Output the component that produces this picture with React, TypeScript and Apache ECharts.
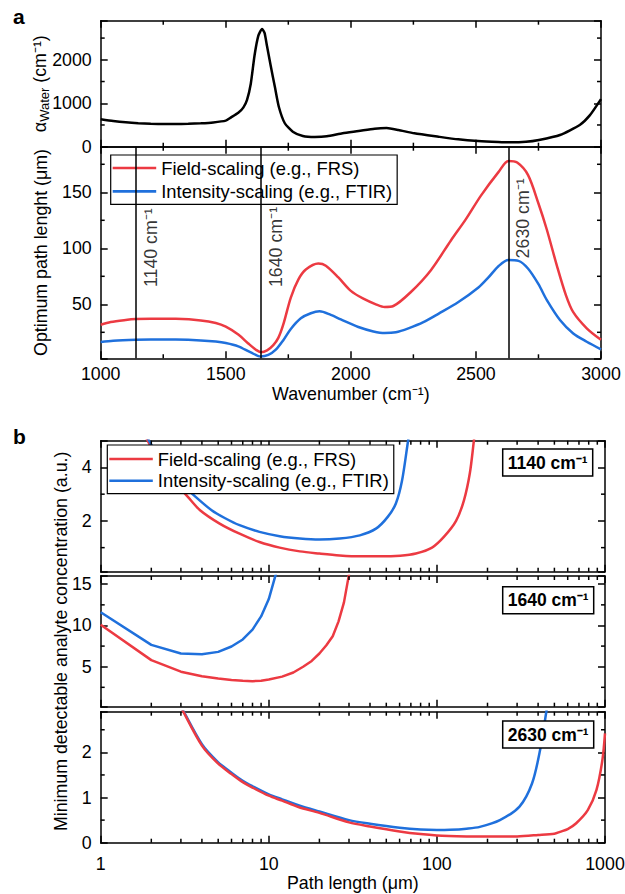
import React, { useEffect, useRef } from 'react';
import * as echarts from 'echarts';

const FONT = 'Liberation Sans, Arial, Helvetica, sans-serif';
const BLACK = '#000';
const RED = '#EC3A42';
const BLUE = '#1F70DC';
const FIELD = 'Field-scaling (e.g., FRS)';
const INTENSITY = 'Intensity-scaling (e.g., FTIR)';

// ---- panel a, top: water absorption ----
const waterWavenumber = [1000, 1050, 1100, 1150, 1200, 1250, 1300, 1350, 1400, 1450, 1500, 1520, 1550, 1570, 1585, 1600, 1615, 1630, 1645, 1655, 1665, 1680, 1696, 1712, 1736, 1768, 1808, 1856, 1904, 1967, 2031, 2095, 2143, 2190, 2254, 2350, 2429, 2509, 2589, 2637, 2700, 2752, 2836, 2915, 2955, 3000];
const waterAbsorption = [630, 590, 560, 540, 528, 522, 522, 527, 538, 558, 600, 670, 780, 900, 1080, 1450, 2100, 2550, 2710, 2620, 2310, 1850, 1385, 920, 540, 346, 246, 223, 238, 308, 360, 415, 430, 385, 308, 230, 170, 131, 108, 100, 112, 155, 270, 500, 720, 1095];

// ---- panel a, bottom: optimum path length ----
const fieldWavenumber = [1000, 1040, 1100, 1140, 1200, 1300, 1400, 1460, 1500, 1550, 1590, 1620, 1640, 1665, 1690, 1710, 1730, 1760, 1790, 1820, 1870, 1900, 1950, 2000, 2050, 2100, 2135, 2170, 2240, 2320, 2400, 2460, 2520, 2590, 2630, 2665, 2708, 2750, 2783, 2823, 2860, 2889, 2943, 3000];
const fieldPathLength = [31.8, 34.2, 36, 36.8, 37.2, 37, 35.6, 33.3, 30, 23, 15, 9.5, 7.3, 8.8, 13.5, 20, 32, 56, 72, 81, 86.4, 84.5, 74, 62, 55, 50, 47.6, 48.5, 61, 80.5, 107, 126, 147, 168, 178, 176.5, 165.5, 140, 117, 85, 58, 43, 28.6, 18.3];
const intensityWavenumber = [1000, 1050, 1140, 1200, 1300, 1400, 1460, 1500, 1550, 1600, 1640, 1670, 1700, 1730, 1760, 1800, 1840, 1875, 1920, 1960, 2030, 2090, 2135, 2180, 2230, 2290, 2350, 2430, 2510, 2550, 2590, 2630, 2670, 2708, 2750, 2783, 2836, 2889, 2943, 3000];
const intensityPathLength = [16.3, 17.5, 18.4, 18.6, 18.5, 17.8, 16.8, 15.5, 12.5, 7, 3.4, 4.8, 9.5, 18, 28, 37.5, 42, 43.7, 40.5, 36.5, 29.7, 25.8, 24.3, 25, 28.5, 34, 41.5, 52, 65, 74, 84, 89.5, 88.8, 82, 68, 54, 36, 24, 16.6, 9.8];
const markerWavenumbers = [1140, 1640, 2630];
const markerLabels = ['1140 cm⁻¹', '1640 cm⁻¹', '2630 cm⁻¹'];
const markerLabelY = [65.4, 65.4, 91];

// ---- panel b: minimum detectable concentration vs path length ----
const b1FieldLength = [1.5, 2, 2.5, 3, 3.3, 3.9, 5.1, 6.7, 8.8, 11.6, 15.3, 20, 26.4, 34.8, 45.9, 60.5, 75, 93.5, 110, 130, 145, 157, 166, 172];
const b1FieldConc = [6.3, 4.75, 3.8, 3.2, 2.9, 2.4, 1.9, 1.52, 1.21, 1.0, 0.86, 0.78, 0.71, 0.675, 0.675, 0.7, 0.78, 1.0, 1.4, 2.0, 2.78, 3.78, 5.0, 5.8];
const b1IntensityLength = [1.5, 2, 2.5, 3, 3.67, 4.57, 5.5, 6.7, 8.8, 11.6, 15.3, 20, 26.4, 34.8, 43.4, 51, 57, 62, 67.4, 70];
const b1IntensityConc = [6.4, 4.85, 3.95, 3.4, 2.9, 2.4, 2.1, 1.84, 1.59, 1.43, 1.34, 1.3, 1.34, 1.46, 1.71, 2.15, 2.65, 3.5, 5.0, 5.6];

const b2FieldLength = [1, 2, 3, 4, 5, 6, 7, 8, 9, 10, 12, 14, 16, 18, 20, 22, 24, 26, 28, 30, 31];
const b2FieldConc = [10.1, 5.8, 4.4, 3.85, 3.57, 3.4, 3.3, 3.25, 3.3, 3.45, 3.8, 4.3, 5.0, 5.7, 6.6, 7.6, 8.7, 10.5, 12.8, 16.2, 18];
const b2IntensityLength = [1, 2, 3, 4, 5, 6, 7, 8, 9, 10, 11, 12];
const b2IntensityConc = [11.6, 7.65, 6.6, 6.5, 6.8, 7.45, 8.3, 9.5, 11.1, 13.2, 16.2, 19];

const b3FieldLength = [2.8, 3, 4, 5, 6, 7, 8, 10, 12, 15, 20, 30, 40, 60, 80, 100, 150, 200, 300, 400, 500, 540, 600, 674, 790, 890, 965, 1000];
const b3FieldConc = [3.2, 3.0, 2.15, 1.75, 1.52, 1.34, 1.22, 1.04, 0.93, 0.79, 0.66, 0.45, 0.36, 0.25, 0.19, 0.16, 0.14, 0.135, 0.14, 0.17, 0.2, 0.24, 0.3, 0.43, 0.72, 1.17, 1.83, 2.42];
const b3IntensityLength = [2.8, 3, 4, 5, 6, 7, 8, 10, 12, 15, 20, 30, 40, 60, 80, 100, 120, 150, 180, 237, 310, 368, 411, 446, 470];
const b3IntensityConc = [3.22, 3.02, 2.18, 1.78, 1.55, 1.37, 1.25, 1.07, 0.96, 0.83, 0.69, 0.5, 0.42, 0.33, 0.29, 0.28, 0.285, 0.31, 0.35, 0.5, 0.8, 1.31, 2.05, 2.86, 3.4];
const bPanelLabels = ['1140 cm⁻¹', '1640 cm⁻¹', '2630 cm⁻¹'];

// ---- ticks ----
const wavenumberMinorTicks = [1250, 1750, 2250, 2750];
const waterMinorTicks = [500, 1500, 2500];
const pathMinorTicks = [25, 75, 125, 175];
const logMinorTicks = [2, 3, 4, 5, 6, 7, 8, 9, 20, 30, 40, 50, 60, 70, 80, 90, 200, 300, 400, 500, 600, 700, 800, 900];
const b1MinorTicks = [1, 3];
const b2MinorTicks = [2.5, 7.5, 12.5];
const b3MinorTicks = [0.5, 1.5, 2.5];

const pair = (xs: number[], ys: number[]) => xs.map((x, i) => [x, ys[i]]);

const grids = [
  { left: 100.7, top: 20.7, width: 500.3, height: 126 },
  { left: 100.7, top: 146.7, width: 500.3, height: 211.6 },
  { left: 100.7, top: 440.7, width: 504.3, height: 131 },
  { left: 100.7, top: 576, width: 504.3, height: 130.7 },
  { left: 100.7, top: 711.7, width: 504.3, height: 131 },
];

const axisLine = { show: true, onZero: false, lineStyle: { color: BLACK, width: 1.5 } };
const axisTick = { show: true, inside: true, length: 7, lineStyle: { color: BLACK, width: 1.5 } };
const labelBase = { color: BLACK, fontSize: 17.8, fontFamily: FONT };
const nameBase = { color: BLACK, fontSize: 17.8, fontFamily: FONT };
const plain = (v: number) => String(Math.round(v * 1000) / 1000);

function xPair(gridIndex: number, base: any, label: any, extra: any = {}) {
  return [
    { ...base, gridIndex, position: 'bottom', axisLine, axisTick, splitLine: { show: false }, axisLabel: label ? { ...labelBase, formatter: plain, ...label } : { show: false }, ...extra },
    { ...base, gridIndex, position: 'top', axisLine, axisTick, splitLine: { show: false }, axisLabel: { show: false } },
  ];
}

function yPair(gridIndex: number, min: number, max: number, interval: number, extra: any = {}) {
  const base = { type: 'value', gridIndex, min, max, minInterval: interval, maxInterval: interval, axisLine, axisTick, splitLine: { show: false } };
  const fmt = (v: number) => {
    const r = v / interval;
    return Math.abs(r - Math.round(r)) < 1e-6 ? plain(v) : '';
  };
  return [
    { ...base, position: 'left', axisLabel: { ...labelBase, margin: 9, formatter: fmt }, ...extra },
    { ...base, position: 'right', axisLabel: { show: false } },
  ];
}

const wnBase = { type: 'value', min: 1000, max: 3000, minInterval: 500, maxInterval: 500 };
const logBase = { type: 'log', logBase: 10, min: 1, max: 1000 };

const xAxes = [
  ...xPair(0, wnBase, null),
  ...xPair(1, wnBase, { margin: 7 }, { name: 'Wavenumber (cm⁻¹)', nameLocation: 'middle', nameGap: 27, nameMoveOverlap: false, nameTextStyle: nameBase }),
  ...xPair(2, logBase, null),
  ...xPair(3, logBase, null),
  ...xPair(4, logBase, { margin: 12 }, { name: 'Path length (μm)', nameLocation: 'middle', nameGap: 31, nameMoveOverlap: false, nameTextStyle: nameBase }),
];

const yAxes = [
  ...yPair(0, 0, 2900, 1000, {
    name: 'α{sub|Water} (cm⁻¹)', nameLocation: 'middle', nameGap: 50, nameMoveOverlap: false,
    nameTextStyle: { ...nameBase, rich: { sub: { fontSize: 13, fontFamily: FONT, color: BLACK, verticalAlign: 'bottom', padding: [8, 0, 0, 0] } } },
  }),
  ...yPair(1, 1.8, 190.7, 50, { name: 'Optimum path lenght (μm)', nameLocation: 'middle', nameGap: 51, nameMoveOverlap: false, nameTextStyle: nameBase }),
  ...yPair(2, 0.1, 5, 2),
  ...yPair(3, 0.15, 16, 5, { name: 'Minimum detectable analyte concentration (a.u.)', nameLocation: 'middle', nameGap: 31, nameMoveOverlap: false, nameTextStyle: nameBase }),
  ...yPair(4, 0, 2.9, 1),
];

function minorTicks(gridIndex: number, xs: number[], ys: number[], xAny: number, yAny: number) {
  return {
    type: 'custom',
    name: 'minor-' + gridIndex,
    xAxisIndex: gridIndex * 2,
    yAxisIndex: gridIndex * 2,
    silent: true,
    clip: false,
    z: 10,
    encode: { x: 0, y: 1 },
    data: [...xs.map((v) => [v, yAny, 0]), ...ys.map((v) => [xAny, v, 1])],
    renderItem: (params: any, api: any) => {
      const cs = params.coordSys;
      const st = { stroke: BLACK, lineWidth: 1.5 };
      const L = 4;
      if (api.value(2) === 0) {
        const px = api.coord([api.value(0), yAny])[0];
        return {
          type: 'group',
          children: [
            { type: 'line', shape: { x1: px, y1: cs.y + cs.height, x2: px, y2: cs.y + cs.height - L }, style: st },
            { type: 'line', shape: { x1: px, y1: cs.y, x2: px, y2: cs.y + L }, style: st },
          ],
        };
      }
      const py = api.coord([xAny, api.value(1)])[1];
      return {
        type: 'group',
        children: [
          { type: 'line', shape: { x1: cs.x, y1: py, x2: cs.x + L, y2: py }, style: st },
          { type: 'line', shape: { x1: cs.x + cs.width, y1: py, x2: cs.x + cs.width - L, y2: py }, style: st },
        ],
      };
    },
  };
}

function lineSeries(name: string, color: string, axis: number, data: number[][], smooth: number | boolean = 0.3, extra: any = {}) {
  return {
    type: 'line', name, xAxisIndex: axis, yAxisIndex: axis, data, smooth, symbol: 'none', showSymbol: false,
    lineStyle: { color, width: 2.5 }, itemStyle: { color }, clip: true, z: 3, ...extra,
  };
}

const legendBase = {
  orient: 'vertical', data: [FIELD, INTENSITY], backgroundColor: '#fff', borderColor: BLACK, borderWidth: 1.2,
  icon: 'rect', itemWidth: 43.5, itemHeight: 2.6, selectedMode: false,
  textStyle: { color: BLACK, fontSize: 18.4, fontFamily: FONT, lineHeight: 18 },
};

const boxTops = [449, 586.7, 721];

const option: any = {
  animation: false,
  backgroundColor: '#fff',
  grid: grids.map((g) => ({ ...g, containLabel: false, outerBoundsMode: 'none' })),
  xAxis: xAxes,
  yAxis: yAxes,
  title: [
    { text: 'a', left: 13, top: 6, padding: 0, textStyle: { fontSize: 21, fontWeight: 'bold', fontFamily: FONT, color: BLACK } },
    { text: 'b', left: 13, top: 426, padding: 0, textStyle: { fontSize: 21, fontWeight: 'bold', fontFamily: FONT, color: BLACK } },
    ...bPanelLabels.map((t, i) => ({
      text: t, left: 502.7, top: boxTops[i], padding: [3, 5, 3, 5], borderColor: BLACK, borderWidth: 1.5, backgroundColor: '#fff',
      textStyle: { fontSize: 17.5, fontWeight: 'bold', fontFamily: FONT, color: BLACK, lineHeight: 21 },
    })),
  ],
  legend: [
    { ...legendBase, left: 110.7, top: 155, padding: [4, 5, 4, 2], itemGap: 5.4 },
    { ...legendBase, left: 107.3, top: 445, padding: [5, 5, 4, 2], itemGap: 3.7 },
  ],
  series: [
    lineSeries('water', BLACK, 0, pair(waterWavenumber, waterAbsorption), 0.2),
    lineSeries(FIELD, RED, 2, pair(fieldWavenumber, fieldPathLength), 0.3, {
      markLine: {
        silent: true, symbol: ['none', 'none'], label: { show: false },
        lineStyle: { color: BLACK, width: 1.5, type: 'solid' },
        data: markerWavenumbers.map((v) => ({ xAxis: v })),
      },
    }),
    lineSeries(INTENSITY, BLUE, 2, pair(intensityWavenumber, intensityPathLength), 0.3),
    {
      type: 'scatter', name: 'markers', xAxisIndex: 2, yAxisIndex: 2, symbolSize: 0, silent: true,
      data: markerWavenumbers.map((v, i) => ({ name: markerLabels[i], value: [v, markerLabelY[i]] })),
      label: { show: true, formatter: '{b}', rotate: 90, position: [6, 0], align: 'left', verticalAlign: 'top', color: BLACK, fontSize: 17.8, fontFamily: FONT },
    },
    lineSeries(FIELD, RED, 4, pair(b1FieldLength, b1FieldConc), 0.3),
    lineSeries(INTENSITY, BLUE, 4, pair(b1IntensityLength, b1IntensityConc), 0.3),
    lineSeries(FIELD, RED, 6, pair(b2FieldLength, b2FieldConc), false),
    lineSeries(INTENSITY, BLUE, 6, pair(b2IntensityLength, b2IntensityConc), false),
    lineSeries(FIELD, RED, 8, pair(b3FieldLength, b3FieldConc), 0.3, { z: 4 }),
    lineSeries(INTENSITY, BLUE, 8, pair(b3IntensityLength, b3IntensityConc), 0.3),
    minorTicks(0, wavenumberMinorTicks, waterMinorTicks, 1000, 0),
    minorTicks(1, wavenumberMinorTicks, pathMinorTicks, 1000, 50),
    minorTicks(2, logMinorTicks, b1MinorTicks, 1, 1),
    minorTicks(3, logMinorTicks, b2MinorTicks, 1, 5),
    minorTicks(4, logMinorTicks, b3MinorTicks, 1, 1),
  ],
};

export default function App() {
  const ref = useRef<HTMLDivElement>(null);
  useEffect(() => {
    if (!ref.current) return;
    const chart = echarts.init(ref.current, null, { renderer: 'svg' });
    chart.setOption(option);
    return () => chart.dispose();
  }, []);
  return <div ref={ref} style={{ position: 'absolute', left: 0, top: 0, width: 625, height: 894, background: '#fff' }} />;
}
